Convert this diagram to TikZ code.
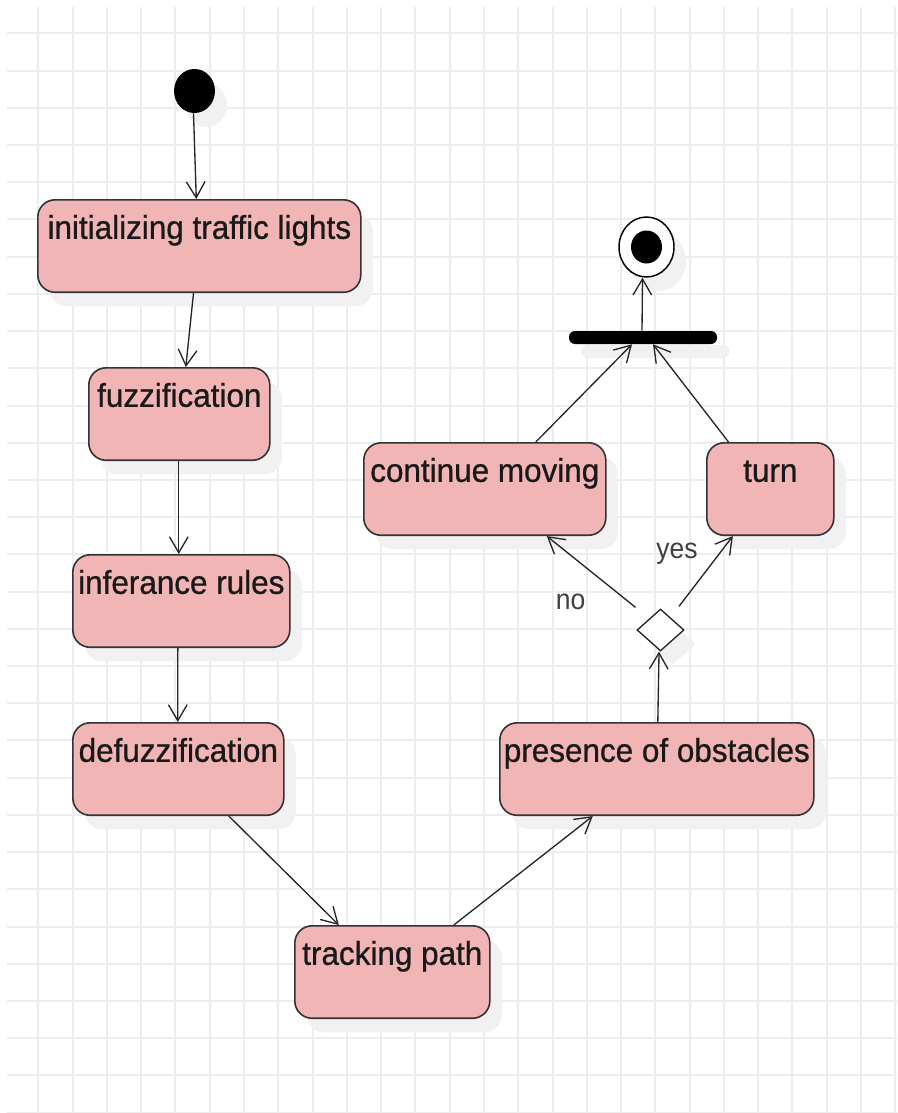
\documentclass[tikz,border=0pt]{standalone}
\usepackage{fontspec}
\setmainfont[FakeStretch=0.92]{Liberation Sans}
\newfontfamily\actfont[FakeStretch=0.955,FakeBold=0.8]{Liberation Sans}
\usetikzlibrary{arrows.meta,shapes.geometric,shadows}
\definecolor{boxpink}{RGB}{242,181,181}
\definecolor{gridgray}{RGB}{237,237,237}
\definecolor{shadowgray}{RGB}{241,241,241}
\begin{document}
\begin{tikzpicture}[x=0.75pt,y=-0.75pt,
  shade/.style={drop shadow={shadow xshift=9pt,shadow yshift=-10.5pt,fill=shadowgray,opacity=1}},
  stepbox/.style={shade, draw=black!80, line width=1.2pt, fill=boxpink,
    rounded corners=13pt, anchor=north west, inner sep=0pt,
    text height=29.25pt, text depth=40.1pt,
    font=\actfont\fontsize{24.7}{28}\selectfont, text=black!90},
  flow/.style={draw=black!85, line width=1pt, -{Straight Barb[length=12pt,width=14pt]}},
  guard/.style={font=\fontsize{21.6}{25}\selectfont, text=black!75, anchor=base, inner sep=0pt},
  gridline/.style={draw=gridgray, line width=1.5pt}
]
\useasboundingbox (0,0) rectangle (897,1113);
\fill[white] (0,0) rectangle (897,1113);

% background grid
\foreach \k in {0,...,25}
  \draw[gridline] ({38.3+34.28*\k},7) -- ({38.3+34.28*\k},1113);
\foreach \k in {0,...,29}
  \draw[gridline] (7,{33.3+37.22*\k}) -- (897,{33.3+37.22*\k});

% activities
\node[stepbox, minimum width=323*0.75pt] (init)   at (37,199)  {initializing traffic lights};
\node[stepbox, minimum width=181*0.75pt] (fuzz)   at (88,367)  {fuzzification};
\node[stepbox, minimum width=217*0.75pt] (infer)  at (72,554)  {inferance rules};
\node[stepbox, minimum width=211*0.75pt] (defuzz) at (72,722)  {defuzzification};
\node[stepbox, minimum width=195*0.75pt] (track)  at (294,925) {tracking path};
\node[stepbox, minimum width=314*0.75pt] (pres)   at (499,722) {presence of obstacles};
\node[stepbox, minimum width=242*0.75pt] (cont)   at (363,442) {continue moving};
\node[stepbox, minimum width=127*0.75pt] (turn)   at (706,442) {turn};

% initial node, decision, join bar, final node
\node[ellipse, fill=black, minimum width=41*0.75pt, minimum height=44*0.75pt,
  inner sep=0pt, shade] (start) at (194.5,91) {};
\node[diamond, draw=black!85, line width=1pt, fill=white, minimum width=47*0.75pt,
  minimum height=42*0.75pt, inner sep=0pt, shade] (choice) at (660.5,630) {};
\node[rectangle, fill=black, rounded corners=4.5pt, minimum width=148*0.75pt,
  minimum height=13*0.75pt, inner sep=0pt, shade] (join) at (643,337.5) {};
\node[ellipse, draw=black, line width=1.1pt, fill=white, minimum width=55*0.75pt,
  minimum height=60*0.75pt, inner sep=0pt, shade] (final) at (646.5,247) {};
\node[ellipse, fill=black, minimum width=31*0.75pt, minimum height=33*0.75pt,
  inner sep=0pt] (finaldot) at (final.center) {};

% guards
\node[guard] (nolabel)  at (570.5,609) {no};
\node[guard] (yeslabel) at (677,558)   {yes};

% control flow
\draw[flow] ([xshift=-0.75pt]start.south) -- ([xshift=-2.25pt]init.north);
\draw[flow] ([xshift=-4.35pt]init.south) -- ([xshift=4.9pt]fuzz.north);
\draw[flow] ([xshift=-0.4pt]fuzz.south) -- ([xshift=-1.9pt]infer.north);
\draw[flow] ([xshift=-2.6pt]infer.south) -- ([xshift=-0.4pt]defuzz.north);
\draw[flow] ([xshift=37.9pt]defuzz.south) -- ([xshift=-40.1pt]track.north);
\draw[flow] ([xshift=46.1pt]track.north) -- ([xshift=-48pt]pres.south);
\draw[flow] ([xshift=0.75pt]pres.north) -- ([xshift=-1.1pt]choice.south);
\draw[flow] ([xshift=-18.75pt,yshift=0.75pt]choice.north) -- ([xshift=46.5pt]cont.south);
\draw[flow] ([xshift=13.9pt,yshift=1.5pt]choice.north) -- ([xshift=-28.1pt]turn.south);
\draw[flow] ([xshift=38.25pt]cont.north) -- ([xshift=-8.25pt]join.south);
\draw[flow] ([xshift=-31.35pt]turn.north) -- ([xshift=7.5pt]join.south);
\draw[flow] ([xshift=-0.75pt]join.north) -- ([xshift=-3pt]final.south);
\end{tikzpicture}
\end{document}
